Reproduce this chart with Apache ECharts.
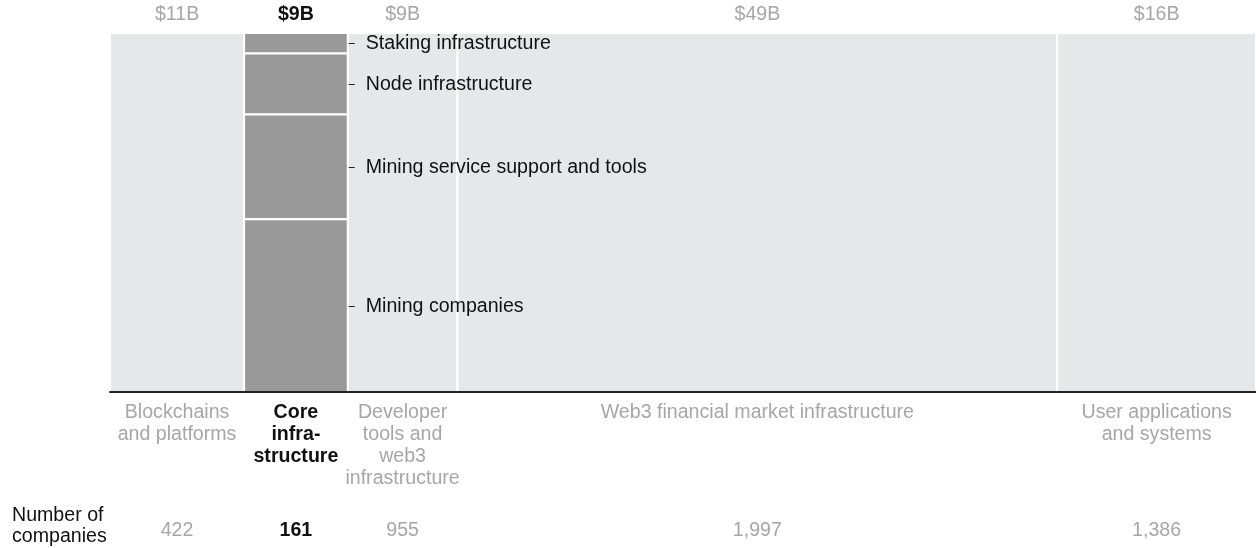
<!DOCTYPE html>
<html><head><meta charset="utf-8">
<script src="https://cdn.jsdelivr.net/npm/echarts@6/dist/echarts.min.js"></script>
<style>html,body{margin:0;padding:0;background:#fff}#c{width:1256px;height:548px}</style>
</head><body><div id="c"></div>
<script>
// ---- data ----
const categories = ['Blockchains\nand platforms', 'Core\ninfra-\nstructure', 'Developer\ntools and\nweb3\ninfrastructure', 'Web3 financial market infrastructure', 'User applications\nand systems'];
const investmentB = [11.0, 8.5, 9.0, 49.2, 16.3];
const investmentLabels = ['$11B', '$9B', '$9B', '$49B', '$16B'];
const companyCounts = ['422', '161', '955', '1,997', '1,386'];
const highlightIndex = 1;
const segmentNames = ['Staking infrastructure', 'Node infrastructure', 'Mining service support and tools', 'Mining companies'];
const segmentShares = [5.7, 17.0, 29.2, 48.1]; // % of column, top to bottom
const rowLabel = 'Number of\ncompanies';

// ---- build ----
const FF = '"Liberation Sans", Arial, Helvetica, sans-serif';
const FS = 19.6;
const GRAY = '#a6a6a6';
const INK = '#111111';
const total = investmentB.reduce((a, b) => a + b, 0);
const starts = [];
let acc = 0;
investmentB.forEach(v => { starts.push(acc); acc += v; });
const columnData = investmentB.map((v, i) => [starts[i], starts[i] + v, i]);
const segData = [];
let segTop = 100;
segmentShares.forEach((s, k) => {
  segData.push([starts[highlightIndex], starts[highlightIndex] + investmentB[highlightIndex], segTop - s, segTop, k]);
  segTop -= s;
});

function renderColumn(params, api) {
  const s = api.value(0), e = api.value(1), i = api.value(2);
  const p0 = api.coord([s, 100]), p1 = api.coord([e, 0]);
  const cx = (p0[0] + p1[0]) / 2;
  const hl = i === highlightIndex;
  const txt = (text, x, y, va) => ({
    type: 'text', x: x, y: y, silent: true,
    style: { text: text, align: 'center', verticalAlign: va, lineHeight: 22, fill: hl ? INK : GRAY, fontWeight: hl ? 'bold' : 'normal', fontSize: FS, fontFamily: FF }
  });
  return {
    type: 'group', children: [
      { type: 'rect', shape: { x: p0[0], y: p0[1], width: p1[0] - p0[0], height: p1[1] - p0[1] }, style: { fill: '#e6e7e8', stroke: '#ffffff', lineWidth: 2 } },
      txt(investmentLabels[i], cx, p0[1] - 18, 'middle'),
      txt(categories[i], cx, p1[1] + 10, 'top'),
      txt(companyCounts[i], cx, p1[1] + 139, 'middle')
    ]
  };
}

function renderSegment(params, api) {
  const s = api.value(0), e = api.value(1), lo = api.value(2), hi = api.value(3), k = api.value(4);
  const p0 = api.coord([s, hi]), p1 = api.coord([e, lo]);
  const my = Math.round((p0[1] + p1[1]) / 2) + 0.5;
  return {
    type: 'group', children: [
      { type: 'rect', shape: { x: p0[0], y: p0[1], width: p1[0] - p0[0], height: p1[1] - p0[1] }, style: { fill: '#999999', stroke: '#ffffff', lineWidth: 2 } },
      { type: 'line', shape: { x1: p1[0] + 1, y1: my, x2: p1[0] + 7, y2: my }, style: { stroke: '#222222', lineWidth: 1 } },
      { type: 'text', x: p1[0] + 18, y: my, style: { text: segmentNames[k], align: 'left', verticalAlign: 'middle', fill: INK, fontSize: FS, fontFamily: FF } }
    ]
  };
}

const chart = echarts.init(document.getElementById('c'), null, { renderer: 'canvas' });
chart.setOption({
  animation: false,
  backgroundColor: '#ffffff',
  grid: { left: 110, right: 0, top: 33, bottom: 156 },
  xAxis: { type: 'value', min: 0, max: total, z: 10, axisLine: { show: true, onZero: false, lineStyle: { color: '#222222', width: 2 } }, axisTick: { show: false }, axisLabel: { show: false }, splitLine: { show: false } },
  yAxis: { type: 'value', min: 0, max: 100, show: false, splitLine: { show: false } },
  graphic: [{ type: 'text', left: 12, top: 505, style: { text: rowLabel, fill: INK, fontSize: FS, fontFamily: FF, lineHeight: 21 } }],
  series: [
    { type: 'custom', clip: false, silent: true, renderItem: renderColumn, data: columnData, z: 1 },
    { type: 'custom', clip: false, silent: true, renderItem: renderSegment, data: segData, z: 2 }
  ]
});
</script></body></html>
